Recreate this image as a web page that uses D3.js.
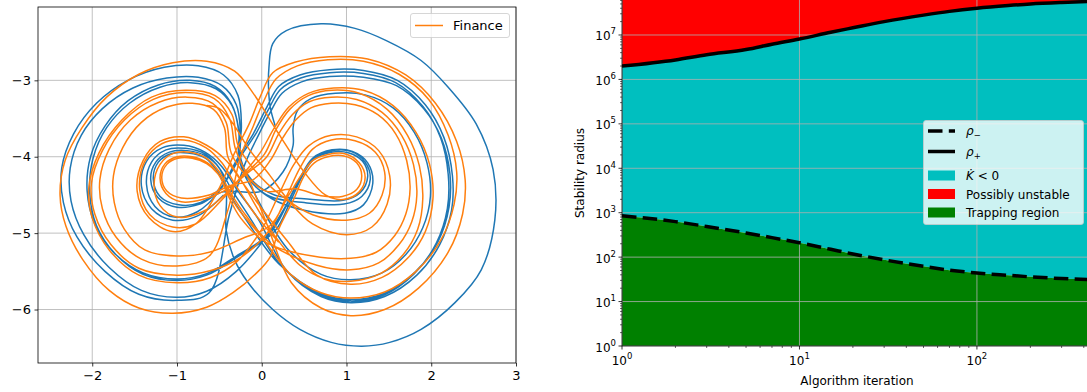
<!DOCTYPE html>
<html>
<head>
<meta charset="utf-8">
<script src="https://cdn.jsdelivr.net/npm/d3@7"></script>
<style>
  body { margin: 0; background: #fff; }
  svg { display: block; }
  text { font-family: "DejaVu Sans", sans-serif; fill: #000; }
</style>
</head>
<body>
<svg id="chart" width="1087" height="392"></svg>
<script>
// ---------- Phase portrait: two trajectories (x, y) ----------
const phaseXTicks = [-2, -1, 0, 1, 2, 3];
const phaseYTicks = [-3, -4, -5, -6];

// Unlabelled reference trajectory (drawn first, blue)
const referenceTrajectory = [
  [-0.45,-4.5],[-0.75,-4.77],[-1.05,-4.83],[-1.3,-4.68],[-1.42,-4.38],[-1.36,-4.06],[-1.17,-3.88],[-0.92,-3.85],[-0.67,-3.94],[-0.47,-4.13],[-0.3,-4.42],[-0.05,-4.8],
  [0.3,-5.5],[0.7,-5.83],[1.05,-5.91],[1.45,-5.83],[1.83,-5.55],[2.1,-5.15],[2.24,-4.7],[2.25,-4.25],[2.15,-3.75],[1.93,-3.32],[1.6,-3.0],[1.2,-2.87],[0.8,-2.86],[0.45,-2.93],[0.2,-3.08],[0.06,-3.35],[-0.1,-3.7],[-0.3,-4.05],
  [-0.5,-4.45],[-0.76,-4.72],[-1.03,-4.79],[-1.26,-4.65],[-1.36,-4.36],[-1.3,-4.07],[-1.13,-3.91],[-0.9,-3.89],[-0.66,-3.97],[-0.5,-4.15],[-0.36,-4.42],[-0.15,-4.78],
  [0.25,-5.45],[0.7,-5.81],[1.05,-5.89],[1.44,-5.81],[1.8,-5.53],[2.06,-5.13],[2.19,-4.68],[2.2,-4.23],[2.11,-3.75],[1.9,-3.34],[1.58,-3.03],[1.2,-2.91],[0.8,-2.9],[0.46,-2.97],[0.22,-3.12],[0.08,-3.38],[-0.06,-3.68],[-0.25,-4.0],
  [-0.48,-4.4],[-0.72,-4.6],[-0.98,-4.63],[-1.2,-4.52],[-1.28,-4.29],[-1.22,-4.07],[-1.07,-3.96],[-0.87,-3.95],[-0.66,-4.02],[-0.52,-4.2],[-0.4,-4.45],[-0.2,-4.8],
  [0.2,-5.4],[0.7,-5.79],[1.05,-5.87],[1.44,-5.79],[1.81,-5.51],[2.08,-5.11],[2.21,-4.66],[2.22,-4.22],[2.12,-3.76],[1.91,-3.37],[1.59,-3.07],[1.2,-2.96],[0.8,-2.95],[0.47,-3.02],[0.24,-3.17],[0.1,-3.42],[-0.04,-3.72],[-0.2,-4.1],[-0.38,-4.75],
  [-0.62,-5.78],[-1.0,-5.88],[-1.45,-5.8],[-1.85,-5.5],[-2.18,-5.05],[-2.34,-4.6],[-2.36,-4.15],[-2.22,-3.7],[-1.95,-3.3],[-1.58,-3.0],[-1.15,-2.83],[-0.75,-2.81],[-0.45,-2.93],[-0.28,-3.2],[-0.24,-3.6],[-0.26,-3.95],[-0.14,-4.3],[0.12,-4.55],[0.5,-4.7],
  [0.98,-4.74],[1.2,-4.63],[1.31,-4.35],[1.25,-4.08],[1.07,-3.93],[0.83,-3.91],[0.6,-4.02],[0.45,-4.28],[0.3,-4.62],[0.1,-5.0],
  [-0.3,-5.3],[-0.65,-5.53],[-1.0,-5.6],[-1.4,-5.52],[-1.75,-5.25],[-1.97,-4.88],[-2.06,-4.45],[-2.02,-4.0],[-1.85,-3.6],[-1.58,-3.27],[-1.22,-3.06],[-0.85,-3.0],[-0.55,-3.08],[-0.36,-3.3],[-0.27,-3.65],[-0.26,-4.0],[-0.12,-4.3],[0.15,-4.5],[0.5,-4.55],
  [0.96,-4.57],[1.16,-4.47],[1.25,-4.26],[1.19,-4.06],[1.03,-3.95],[0.82,-3.94],[0.61,-4.04],[0.48,-4.25],[0.34,-4.58],[0.15,-4.98],
  [-0.3,-5.32],[-0.65,-5.55],[-1.0,-5.62],[-1.4,-5.54],[-1.73,-5.27],[-1.95,-4.9],[-2.03,-4.47],[-1.99,-4.02],[-1.83,-3.62],[-1.56,-3.3],[-1.2,-3.09],[-0.84,-3.03],[-0.54,-3.11],[-0.35,-3.33],[-0.27,-3.68],[-0.27,-4.02],[-0.15,-4.3],[0.1,-4.52],[0.5,-4.6],
  [0.97,-4.62],[1.18,-4.52],[1.28,-4.3],[1.22,-4.07],[1.05,-3.93],[0.83,-3.92],[0.61,-4.03],[0.44,-4.3],[0.28,-4.65],[0.05,-5.05],
  [-0.3,-5.5],[-0.65,-5.76],[-1.0,-5.84],[-1.42,-5.75],[-1.8,-5.45],[-2.1,-5.02],[-2.25,-4.58],[-2.26,-4.15],[-2.13,-3.72],[-1.88,-3.37],[-1.52,-3.1],[-1.12,-2.97],[-0.75,-2.96],[-0.47,-3.07],[-0.3,-3.32],[-0.25,-3.7],[-0.25,-4.1],[-0.1,-4.45],
  [0.3,-5.2],[0.7,-5.54],[1.05,-5.61],[1.42,-5.52],[1.7,-5.28],[1.9,-4.93],[1.99,-4.52],[1.95,-4.08],[1.8,-3.68],[1.55,-3.36],[1.22,-3.19],[0.87,-3.17],[0.58,-3.24],[0.42,-3.4],[0.37,-3.62],[0.37,-3.85],[0.25,-4.2],[0.0,-4.45],
  [-0.46,-4.46],[-0.73,-4.62],[-1.0,-4.66],[-1.22,-4.54],[-1.31,-4.3],[-1.25,-4.07],[-1.09,-3.94],[-0.88,-3.92],[-0.66,-3.99],[-0.5,-4.15],[-0.42,-4.45],[-0.42,-4.96],
  [-0.32,-5.35],[-0.16,-5.65],[0.13,-6.0],[0.45,-6.26],[0.82,-6.43],[1.18,-6.48],[1.51,-6.43],[1.88,-6.26],[2.28,-5.91],[2.59,-5.48],[2.75,-4.83],[2.73,-4.17],[2.53,-3.57],[2.2,-3.09],[1.88,-2.74],[1.47,-2.48],[1.1,-2.32],[0.7,-2.26],[0.29,-2.35],[0.13,-2.52],[0.085,-2.83],[0.08,-3.09],[0.1,-3.35],[0.16,-3.6]
];

// "Finance" trajectory (orange)
const financeTrajectory = [
  [-0.65,-3.33],[-0.5,-3.37],[-0.35,-3.55],[-0.15,-3.9],[0.1,-4.25],[0.3,-4.55],
  [0.6,-4.88],[1.0,-5.02],[1.3,-4.92],[1.48,-4.62],[1.51,-4.25],[1.38,-3.92],[1.12,-3.74],[0.82,-3.72],[0.55,-3.86],[0.38,-4.1],[0.22,-4.45],[0.0,-4.95],
  [-0.3,-5.38],[-0.6,-5.58],[-1.0,-5.65],[-1.45,-5.55],[-1.8,-5.22],[-2.0,-4.8],[-2.04,-4.4],[-1.92,-3.95],[-1.65,-3.52],[-1.3,-3.22],[-0.9,-3.13],[-0.55,-3.2],[-0.35,-3.45],[-0.28,-3.85],[-0.08,-4.18],[0.22,-4.5],
  [0.6,-4.76],[1.0,-4.83],[1.27,-4.74],[1.42,-4.5],[1.45,-4.2],[1.34,-3.94],[1.1,-3.79],[0.82,-3.78],[0.6,-3.9],[0.45,-4.15],[0.3,-4.5],[0.1,-4.95],
  [-0.25,-5.32],[-0.6,-5.49],[-1.0,-5.55],[-1.45,-5.46],[-1.78,-5.15],[-1.97,-4.75],[-2.01,-4.35],[-1.88,-3.92],[-1.62,-3.52],[-1.28,-3.25],[-0.9,-3.16],[-0.56,-3.24],[-0.38,-3.5],[-0.31,-3.9],[-0.15,-4.3],[0.05,-4.85],
  [0.35,-5.65],[0.7,-5.98],[1.05,-6.08],[1.45,-6.0],[1.85,-5.72],[2.2,-5.25],[2.37,-4.75],[2.4,-4.3],[2.3,-3.8],[2.05,-3.3],[1.7,-2.93],[1.25,-2.72],[0.8,-2.69],[0.4,-2.76],[0.13,-2.9],[-0.02,-3.22],[-0.14,-3.55],[-0.32,-3.95],
  [-0.52,-4.45],[-0.78,-4.88],[-1.05,-4.98],[-1.33,-4.8],[-1.47,-4.45],[-1.4,-4.05],[-1.2,-3.8],[-0.92,-3.74],[-0.65,-3.85],[-0.42,-4.05],[-0.22,-4.35],[0.05,-4.75],[0.3,-5.1],
  [0.65,-5.55],[1.05,-5.67],[1.42,-5.58],[1.72,-5.33],[1.93,-4.98],[2.02,-4.55],[1.98,-4.1],[1.82,-3.68],[1.55,-3.33],[1.2,-3.13],[0.85,-3.1],[0.55,-3.17],[0.32,-3.35],[0.15,-3.62],[-0.02,-3.95],[-0.2,-4.2],
  [-0.42,-4.48],[-0.7,-4.72],[-1.0,-4.79],[-1.2,-4.64],[-1.27,-4.36],[-1.2,-4.1],[-1.05,-3.96],[-0.85,-3.94],[-0.65,-4.02],[-0.5,-4.2],[-0.38,-4.45],[-0.18,-4.78],[0.12,-5.15],
  [0.65,-5.42],[1.05,-5.48],[1.38,-5.39],[1.62,-5.15],[1.77,-4.85],[1.83,-4.5],[1.79,-4.1],[1.65,-3.72],[1.42,-3.42],[1.12,-3.25],[0.82,-3.22],[0.56,-3.28],[0.36,-3.45],[0.2,-3.7],[0.06,-4.0],[-0.15,-4.2],
  [-0.45,-4.45],[-0.7,-4.56],[-0.95,-4.59],[-1.13,-4.48],[-1.2,-4.28],[-1.14,-4.09],[-1.0,-4.0],[-0.82,-4.0],[-0.64,-4.08],[-0.5,-4.25],[-0.4,-4.5],[-0.25,-4.8],[0.05,-5.12],
  [0.6,-5.3],[1.05,-5.33],[1.35,-5.25],[1.57,-5.03],[1.7,-4.75],[1.75,-4.42],[1.71,-4.05],[1.58,-3.7],[1.37,-3.45],[1.1,-3.32],[0.82,-3.3],[0.58,-3.36],[0.4,-3.52],[0.25,-3.75],[0.1,-4.05],[-0.1,-4.3],
  [-0.38,-4.38],[-0.62,-4.5],[-0.95,-4.54],[-1.12,-4.45],[-1.18,-4.27],[-1.12,-4.1],[-0.99,-4.02],[-0.82,-4.02],[-0.65,-4.09],[-0.52,-4.22],[-0.42,-4.42],[-0.28,-4.68],[0.0,-5.05],
  [0.35,-5.55],[0.7,-5.78],[1.05,-5.85],[1.45,-5.77],[1.82,-5.5],[2.12,-5.08],[2.27,-4.62],[2.3,-4.2],[2.2,-3.72],[1.97,-3.25],[1.62,-2.92],[1.2,-2.75],[0.78,-2.73],[0.42,-2.81],[0.17,-2.98],[0.02,-3.28],[-0.1,-3.6],[-0.25,-4.0],
  [-0.4,-4.7],[-0.62,-5.3],[-1.0,-5.43],[-1.42,-5.34],[-1.72,-5.05],[-1.88,-4.68],[-1.91,-4.3],[-1.8,-3.9],[-1.55,-3.52],[-1.22,-3.29],[-0.88,-3.22],[-0.58,-3.3],[-0.42,-3.55],[-0.36,-3.95],[-0.18,-4.25],[0.05,-4.45],
  [0.4,-4.42],[0.7,-4.51],[0.95,-4.52],[1.12,-4.43],[1.18,-4.25],[1.12,-4.08],[0.97,-3.99],[0.78,-4.0],[0.62,-4.08],[0.5,-4.25],[0.38,-4.55],[0.2,-4.95],
  [0.1,-5.31],[-0.06,-5.52],[-0.34,-5.78],[-0.65,-5.97],[-1.05,-6.05],[-1.45,-5.98],[-1.8,-5.75],[-2.11,-5.35],[-2.31,-4.91],[-2.38,-4.5],[-2.32,-4.05],[-2.12,-3.62],[-1.83,-3.22],[-1.45,-2.92],[-1.05,-2.77],[-0.65,-2.75],[-0.32,-2.88],[-0.1,-3.17],[0.2,-3.7],[0.5,-4.2],
  [0.75,-4.5],[0.96,-4.56],[1.15,-4.46],[1.22,-4.27],[1.15,-4.08],[0.98,-3.96],[0.78,-3.97],[0.6,-4.05],[0.48,-4.22],[0.32,-4.5],[0.1,-4.9],
  [-0.25,-5.08],[-0.62,-5.25],[-1.0,-5.3],[-1.38,-5.22],[-1.62,-4.95],[-1.74,-4.6],[-1.75,-4.25],[-1.64,-3.88],[-1.42,-3.55],[-1.12,-3.35],[-0.82,-3.3],[-0.57,-3.38],[-0.44,-3.62],[-0.4,-4.0],[-0.22,-4.35],
  [0.1,-4.95],[0.45,-5.42],[0.75,-5.6],[1.05,-5.63],[1.4,-5.53],[1.67,-5.28],[1.84,-4.95],[1.9,-4.55],[1.86,-4.12],[1.72,-3.72],[1.48,-3.38],[1.15,-3.17],[0.83,-3.13],[0.55,-3.2],[0.33,-3.38],[0.17,-3.64],[0.03,-3.97],[-0.22,-4.25],
  [-0.5,-4.6],[-0.78,-4.88],[-1.05,-4.92],[-1.32,-4.76],[-1.44,-4.43],[-1.38,-4.06],[-1.18,-3.83],[-0.92,-3.78],[-0.66,-3.88],[-0.47,-4.08],[-0.32,-4.35],[-0.1,-4.72],[0.2,-5.12]
];

// ---------- Stability radius vs. algorithm iteration ----------
const iterations = [1, 2, 3, 5, 7, 10, 15, 20, 30, 50, 70, 100, 150, 200, 300, 445];
const rhoMinus   = [850, 630, 490, 350, 275, 210, 150, 118, 87, 62, 51, 44, 39, 36, 33, 31];
const rhoPlus    = [2.0e6, 2.75e6, 3.6e6, 4.7e6, 6.2e6, 8.1e6, 1.15e7, 1.45e7, 2.0e7, 2.8e7, 3.4e7, 4.0e7, 4.6e7, 5.0e7, 5.4e7, 5.7e7];
const iterTickExponents   = [0, 1, 2];
const radiusTickExponents = [0, 1, 2, 3, 4, 5, 6, 7];

const legendEntries = ["Possibly unstable", "Trapping region"];

const svg = d3.select("#chart");
const BLUE = "#1f77b4", ORANGE = "#ff7f0e", GRID = "#b0b0b0";
const fmtMinus = d => (d < 0 ? "\u2212" + Math.abs(d) : String(d));

// ===== Left panel =====
const P = { l: 38, r: 516, t: 7, b: 363 };
const xP = d3.scaleLinear().domain([-2.64, 3.0]).range([P.l, P.r]);
const yP = d3.scaleLinear().domain([-6.70, -2.04]).range([P.b, P.t]);

const gL = svg.append("g");
gL.append("defs").append("clipPath").attr("id", "clipL")
  .append("rect").attr("x", P.l).attr("y", P.t).attr("width", P.r - P.l).attr("height", P.b - P.t);

// grid
gL.append("g").selectAll("line").data(phaseXTicks).join("line")
  .attr("x1", d => xP(d)).attr("x2", d => xP(d)).attr("y1", P.t).attr("y2", P.b)
  .attr("stroke", GRID).attr("stroke-width", 0.8);
gL.append("g").selectAll("line").data(phaseYTicks).join("line")
  .attr("y1", d => yP(d)).attr("y2", d => yP(d)).attr("x1", P.l).attr("x2", P.r)
  .attr("stroke", GRID).attr("stroke-width", 0.8);

const phaseLine = d3.line().x(d => xP(d[0])).y(d => yP(d[1])).curve(d3.curveCatmullRom.alpha(0.5));
const plotL = gL.append("g").attr("clip-path", "url(#clipL)");
plotL.append("path").attr("d", phaseLine(referenceTrajectory))
  .attr("fill", "none").attr("stroke", BLUE).attr("stroke-width", 1.5).attr("stroke-linejoin", "round");
plotL.append("path").attr("d", phaseLine(financeTrajectory))
  .attr("fill", "none").attr("stroke", ORANGE).attr("stroke-width", 1.5).attr("stroke-linejoin", "round");

// axes
const axB = gL.append("g").attr("transform", `translate(0,${P.b})`)
  .call(d3.axisBottom(xP).tickValues(phaseXTicks).tickFormat(fmtMinus).tickSize(3.5).tickSizeOuter(0).tickPadding(4.5));
const axLft = gL.append("g").attr("transform", `translate(${P.l},0)`)
  .call(d3.axisLeft(yP).tickValues(phaseYTicks).tickFormat(fmtMinus).tickSize(3.5).tickSizeOuter(0).tickPadding(3.5));
[axB, axLft].forEach(a => {
  a.select(".domain").remove();
  a.selectAll("line").attr("stroke", "#000").attr("stroke-width", 0.8);
  a.selectAll("text").attr("font-size", 13).attr("font-family", "DejaVu Sans").attr("fill", "#000");
});
gL.append("rect").attr("x", P.l).attr("y", P.t).attr("width", P.r - P.l).attr("height", P.b - P.t)
  .attr("fill", "none").attr("stroke", "#000").attr("stroke-width", 0.8);

// legend
const lgL = gL.append("g");
lgL.append("rect").attr("x", 410.5).attr("y", 13.5).attr("width", 99).attr("height", 24).attr("rx", 2.5)
  .attr("fill", "#fff").attr("fill-opacity", 0.8).attr("stroke", "#cccccc").attr("stroke-width", 0.8);
lgL.append("line").attr("x1", 415).attr("x2", 443).attr("y1", 25.5).attr("y2", 25.5)
  .attr("stroke", ORANGE).attr("stroke-width", 1.5);
lgL.append("text").attr("x", 453).attr("y", 30).attr("font-size", 13).text("Finance");

// ===== Right panel =====
const R = { l: 622, r: 1092, t: 0, b: 346 };
const xR = d3.scaleLog().domain([1, 445]).range([R.l, R.r]);
const yR = d3.scaleLog().domain([1, 6.13e7]).range([R.b, R.t]);
const idx = d3.range(iterations.length);

const gR = svg.append("g");
gR.append("defs").append("clipPath").attr("id", "clipR")
  .append("rect").attr("x", R.l).attr("y", R.t).attr("width", R.r - R.l).attr("height", R.b - R.t);
const plotR = gR.append("g").attr("clip-path", "url(#clipR)");

const curve = d3.curveMonotoneX;
const areaGreen = d3.area().x(i => xR(iterations[i])).y0(yR(1)).y1(i => yR(rhoMinus[i])).curve(curve);
const areaCyan  = d3.area().x(i => xR(iterations[i])).y0(i => yR(rhoMinus[i])).y1(i => yR(rhoPlus[i])).curve(curve);
const areaRed   = d3.area().x(i => xR(iterations[i])).y0(i => yR(rhoPlus[i])).y1(yR(6.13e7)).curve(curve);
plotR.append("path").attr("d", areaRed(idx)).attr("fill", "#ff0000");
plotR.append("path").attr("d", areaCyan(idx)).attr("fill", "#00bfbf");
plotR.append("path").attr("d", areaGreen(idx)).attr("fill", "#008000");

// major grid over the filled regions
plotR.append("g").selectAll("line").data(iterTickExponents).join("line")
  .attr("x1", k => xR(10 ** k)).attr("x2", k => xR(10 ** k)).attr("y1", R.t).attr("y2", R.b)
  .attr("stroke", GRID).attr("stroke-width", 0.8);
plotR.append("g").selectAll("line").data(radiusTickExponents).join("line")
  .attr("y1", k => yR(10 ** k)).attr("y2", k => yR(10 ** k)).attr("x1", R.l).attr("x2", R.r)
  .attr("stroke", GRID).attr("stroke-width", 0.8);

const lineMinus = d3.line().x(i => xR(iterations[i])).y(i => yR(rhoMinus[i])).curve(curve);
const linePlus  = d3.line().x(i => xR(iterations[i])).y(i => yR(rhoPlus[i])).curve(curve);
plotR.append("path").attr("d", lineMinus(idx)).attr("fill", "none").attr("stroke", "#000")
  .attr("stroke-width", 3.5).attr("stroke-dasharray", "14.5,6.3");
plotR.append("path").attr("d", linePlus(idx)).attr("fill", "none").attr("stroke", "#000")
  .attr("stroke-width", 3.5);

// ticks (major + minor)
const minorX = [];
for (let k = 0; k < 3; k++) for (let m = 2; m <= 9; m++) { const v = m * 10 ** k; if (v < 445) minorX.push(v); }
const minorY = [];
for (let k = 0; k < 8; k++) for (let m = 2; m <= 9; m++) { const v = m * 10 ** k; if (v < 6.13e7) minorY.push(v); }

const ticksR = gR.append("g").attr("stroke", "#000");
ticksR.selectAll(".mjx").data(iterTickExponents).join("line")
  .attr("x1", k => xR(10 ** k)).attr("x2", k => xR(10 ** k)).attr("y1", R.b).attr("y2", R.b + 3.5).attr("stroke-width", 0.8);
ticksR.selectAll(".mnx").data(minorX).join("line")
  .attr("x1", v => xR(v)).attr("x2", v => xR(v)).attr("y1", R.b).attr("y2", R.b + 2).attr("stroke-width", 0.6);
ticksR.selectAll(".mjy").data(radiusTickExponents).join("line")
  .attr("y1", k => yR(10 ** k)).attr("y2", k => yR(10 ** k)).attr("x1", R.l).attr("x2", R.l - 3.5).attr("stroke-width", 0.8);
ticksR.selectAll(".mny").data(minorY).join("line")
  .attr("y1", v => yR(v)).attr("y2", v => yR(v)).attr("x1", R.l).attr("x2", R.l - 2).attr("stroke-width", 0.6);

// spines
gR.append("line").attr("x1", R.l).attr("x2", R.r).attr("y1", R.b).attr("y2", R.b).attr("stroke", "#000").attr("stroke-width", 0.8);
gR.append("line").attr("x1", R.l).attr("x2", R.l).attr("y1", R.t).attr("y2", R.b).attr("stroke", "#000").attr("stroke-width", 0.8);

function powerLabel(sel, k) {
  sel.append("tspan").text("10");
  sel.append("tspan").attr("dy", -6).attr("font-size", 8.5).text(k);
}
gR.append("g").selectAll("text").data(iterTickExponents).join("text")
  .attr("x", k => xR(10 ** k)).attr("y", R.b + 19).attr("font-size", 12).attr("text-anchor", "middle")
  .each(function (k) { powerLabel(d3.select(this), k); });
gR.append("g").selectAll("text").data(radiusTickExponents).join("text")
  .attr("x", R.l - 6).attr("y", k => yR(10 ** k) + 5.5).attr("font-size", 12).attr("text-anchor", "end")
  .each(function (k) { powerLabel(d3.select(this), k); });

gR.append("text").attr("x", 857).attr("y", 385).attr("font-size", 12).attr("text-anchor", "middle").text("Algorithm iteration");
gR.append("text").attr("transform", "translate(584,173) rotate(-90)").attr("font-size", 12)
  .attr("text-anchor", "middle").text("Stability radius");

// legend
const lgR = gR.append("g");
lgR.append("rect").attr("x", 923.5).attr("y", 120.5).attr("width", 160).attr("height", 104).attr("rx", 2.5)
  .attr("fill", "#fff").attr("fill-opacity", 0.8).attr("stroke", "#cccccc").attr("stroke-width", 0.8);
const LX0 = 928, LX1 = 955, TX = 966;
lgR.append("line").attr("x1", LX0).attr("x2", LX1).attr("y1", 131).attr("y2", 131)
  .attr("stroke", "#000").attr("stroke-width", 3.5).attr("stroke-dasharray", "14.5,6.3");
lgR.append("line").attr("x1", LX0).attr("x2", LX1).attr("y1", 151.5).attr("y2", 151.5)
  .attr("stroke", "#000").attr("stroke-width", 3.5);
const rhoM = lgR.append("text").attr("x", TX).attr("y", 135).attr("font-size", 12);
rhoM.append("tspan").attr("font-style", "italic").text("\u03c1");
rhoM.append("tspan").attr("dy", 3).attr("font-size", 8.5).text("\u2212");
const rhoP = lgR.append("text").attr("x", TX).attr("y", 156).attr("font-size", 12);
rhoP.append("tspan").attr("font-style", "italic").text("\u03c1");
rhoP.append("tspan").attr("dy", 3).attr("font-size", 8.5).text("+");

const patches = [["#00bfbf", 175.5], ["#ff0000", 194], ["#008000", 212.5]];
lgR.selectAll(".patch").data(patches).join("rect")
  .attr("x", LX0).attr("y", d => d[1] - 5).attr("width", LX1 - LX0).attr("height", 10).attr("fill", d => d[0]);
const kdot = lgR.append("text").attr("x", TX).attr("y", 180).attr("font-size", 12);
kdot.append("tspan").attr("font-style", "italic").text("K\u0307");
kdot.append("tspan").text(" < 0");
lgR.append("text").attr("x", TX).attr("y", 198.5).attr("font-size", 12).text(legendEntries[0]);
lgR.append("text").attr("x", TX).attr("y", 217).attr("font-size", 12).text(legendEntries[1]);
</script>
</body>
</html>
